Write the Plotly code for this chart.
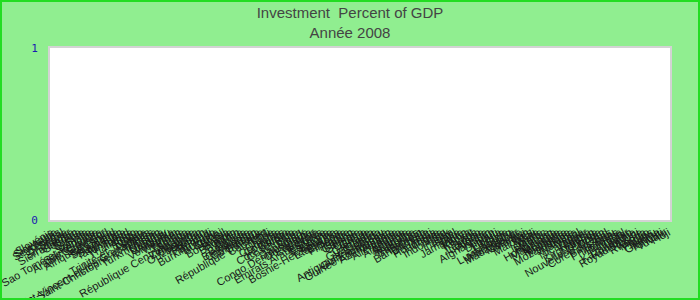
import plotly.graph_objects as go

title_line1 = "Investment  Percent of GDP"
title_line2 = "Année 2008"

countries = [
    "Slovénie", "Slovaquie", "Seychelles", "Sénégal", "Serbie", "Singapour",
    "Sierra Leone", "Soudan", "Suède", "Suisse", "Syrie", "Somalie",
    "Sao Tomé-et-Principe", "Sainte-Lucie", "Arabie Saoudite", "Salvador",
    "Afrique du Sud", "Sri Lanka", "Swaziland", "Suriname", "Tadjikistan",
    "Tanzanie", "Tchad", "Thaïlande", "Togo", "Tonga", "Trinité-et-Tobago",
    "Tunisie", "Saint-Vincent-et-les Grenadines", "Saint-Christophe-et-Niévès",
    "Turquie", "Turkménistan", "Ukraine", "Uruguay", "Vanuatu", "Venezuela",
    "Vietnam", "Yémen", "Zambie", "Samoa", "République Centrafricaine",
    "Zimbabwe", "Ouganda", "Ouzbékistan", "Pakistan", "Panama", "Burundi",
    "Burkina Faso", "Bulgarie", "Brunei", "Brésil", "Botswana", "Bolivie",
    "Bhoutan", "Bénin", "Belize", "Belgique", "Biélorussie", "Cambodge",
    "Cameroun", "Canada", "République Tchèque", "Cap-Vert", "Chili", "Chine",
    "Chypre", "Colombie", "Comores", "Congo", "Côte d'Ivoire", "Costa Rica",
    "Croatie", "Cuba", "Danemark", "Congo Démocratique", "Dominique",
    "Équateur", "Égypte", "Émirats Arabes Unis", "Érythrée", "Espagne",
    "Estonie", "Bosnie-Herzégovine", "États-Unis", "Éthiopie", "Finlande",
    "France", "Gabon", "Gambie", "Géorgie", "Ghana", "Grèce", "Grenade",
    "Guatemala", "Guinée", "Antigua-et-Barbuda", "Guinée-Bissau",
    "Guinée Équatoriale", "Azerbaïdjan", "Albanie", "Allemagne", "Angola",
    "Argentine", "Arménie", "Australie", "Autriche", "Bahamas", "Bahreïn",
    "Bangladesh", "Barbade", "Haïti", "Honduras", "Hongrie", "Inde",
    "Indonésie", "Irak", "Irlande", "Israël", "Italie", "Jamaïque", "Japon",
    "Kenya", "Koweït", "Laos", "Lesotho", "Lettonie", "Algérie", "Afghanistan",
    "Liban", "Djibouti", "Libéria", "Libye", "Lituanie", "Luxembourg",
    "Macédoine", "Madagascar", "Malaisie", "Malawi", "Iran", "Maldives",
    "Mali", "Malte", "Islande", "Maroc", "Maurice", "Hong Kong", "Mauritanie",
    "Mexique", "Moldavie", "Mongolie", "Mozambique", "Jordanie", "Namibie",
    "Népal", "Nicaragua", "Niger", "Nigeria", "Kirghizistan", "Norvège",
    "Nouvelle-Zélande", "Oman", "Corée du Sud", "Pays-Bas", "Pérou",
    "Philippines", "Pologne", "Portugal", "Qatar", "Kazakhstan", "Roumanie",
    "Royaume-Uni", "Russie", "Rwanda", "Macao", "Palaos", "Nauru", "Guyana",
    "Kiribati", "Tuvalu", "Fidji",
]

# No bar is visible in the reference: the series carries no values for 2008.
investment_pct_gdp = [None for _ in countries]

y_tick_values = [0, 1]
y_tick_labels = ["0", "1"]

L, R, T, B = 50, 30, 48, 80
W, H = 700, 300
pw, ph = W - L - R, H - T - B

fig = go.Figure()
fig.add_trace(go.Bar(x=countries, y=investment_pct_gdp, marker_color="#4a7ebb",
                     showlegend=False))

fig.update_layout(
    width=W, height=H,
    margin=dict(l=L, r=R, t=T, b=B, pad=0),
    paper_bgcolor="#90EE90",
    plot_bgcolor="#FFFFFF",
    title=dict(text=title_line1 + "<br>" + title_line2, x=0.5, xanchor="center",
               yref="container", y=0.94, yanchor="top",
               font=dict(family="Liberation Sans, Arial", size=15, color="#444444")),
    xaxis=dict(type="category", categoryorder="array", categoryarray=countries,
               range=[-0.5, len(countries) - 0.5], tickmode="linear", tick0=0, dtick=1,
               tickangle=-30, automargin=False, showgrid=False, ticks="",
               showline=True, linecolor="#D3D3D3", linewidth=2, mirror=True,
               tickfont=dict(family="Liberation Sans, Arial", size=11, color="#1A1A1A")),
    yaxis=dict(range=[0, 1], tickmode="array", tickvals=y_tick_values,
               ticktext=y_tick_labels, automargin=False, showgrid=False,
               zeroline=False, ticks="", ticklabelstandoff=8,
               showline=True, linecolor="#D3D3D3", linewidth=2, mirror=True,
               tickfont=dict(family="DejaVu Sans Mono", size=11, color="#1A1AB0")),
    shapes=[dict(type="rect", xref="paper", yref="paper",
                 x0=(-L + 1) / pw, x1=1 + (R - 1) / pw,
                 y0=(-B + 1) / ph, y1=1 + (T - 1) / ph,
                 line=dict(color="#22DD22", width=2), fillcolor="rgba(0,0,0,0)",
                 layer="above")],
)

fig.write_html("out.html")
